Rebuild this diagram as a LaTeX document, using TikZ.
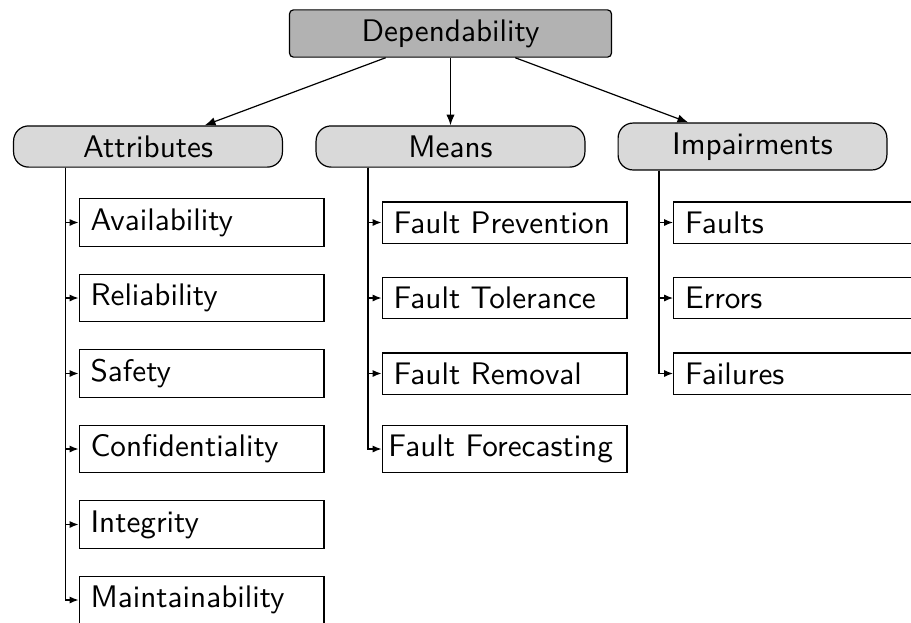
\documentclass[tikz,border=0pt]{standalone}
\usetikzlibrary{arrows.meta}
\begin{document}
\begin{tikzpicture}[x=0.33333pt,y=-0.33333pt,
  font=\fontsize{10.4}{12.5}\selectfont\sffamily,
  rootbox/.style={draw=black, fill=black!30, rounded corners=1.3pt, minimum width=107.3pt, inner ysep=3.2pt},
  catbox/.style={draw=black, fill=black!15, rounded corners=5pt, minimum width=89.6pt, inner ysep=3.2pt},
  itembox/.style={draw=black, fill=white, anchor=west, text width=74pt, align=left, inner xsep=3.8pt, inner ysep=3.2pt},
  wideitem/.style={itembox, text width=77.4pt, inner xsep=2.1pt},
  arr/.style={-{Latex[length=3.6pt,width=2.8pt]}},
  trunk/.style={-{Latex[length=3pt,width=2.4pt]}}
]
\useasboundingbox (0,0) rectangle (911,622);
\clip (0,0) rectangle (911,622);

\node[rootbox] (dep) at (450.5,33.5) {Dependability};

\node[catbox] (att) at (148,146.5) {Attributes};
\node[catbox] (mea) at (450.5,146.5) {Means};
\node[catbox] (imp) at (752.5,146.5) {Impairments};

\draw[arr] (dep) -- (att);
\draw[arr] (dep) -- (mea);
\draw[arr] (dep) -- (imp);

% Attributes
\node[itembox] (av) at (78.5,222.5) {Availability};
\node[itembox] (re) at (78.5,298) {Reliability};
\node[itembox] (sa) at (78.5,373.5) {Safety};
\node[itembox] (co) at (78.5,449) {Confidentiality};
\node[itembox] (in) at (78.5,524.5) {Integrity};
\node[itembox] (ma) at (78.5,600) {Maintainability};

% Means
\node[itembox] (fp) at (381.5,222.5) {Fault Prevention};
\node[itembox] (ft) at (381.5,298) {Fault Tolerance};
\node[itembox] (fr) at (381.5,373.5) {Fault Removal};
\node[wideitem] (ff) at (381.5,449) {\mbox{Fault Forecasting}};

% Impairments
\node[itembox] (fa) at (673,222.5) {Faults};
\node[itembox] (er) at (673,298) {Errors};
\node[itembox] (fl) at (673,373.5) {Failures};

\foreach \c in {av,re,sa,co,in,ma}
  \draw[trunk] ([xshift=-27.5pt]att.south) |- (\c.west);
\foreach \c in {fp,ft,fr,ff}
  \draw[trunk] ([xshift=-27.5pt]mea.south) |- (\c.west);
\foreach \c in {fa,er,fl}
  \draw[trunk] ([xshift=-31.2pt]imp.south) |- (\c.west);
\end{tikzpicture}
\end{document}
